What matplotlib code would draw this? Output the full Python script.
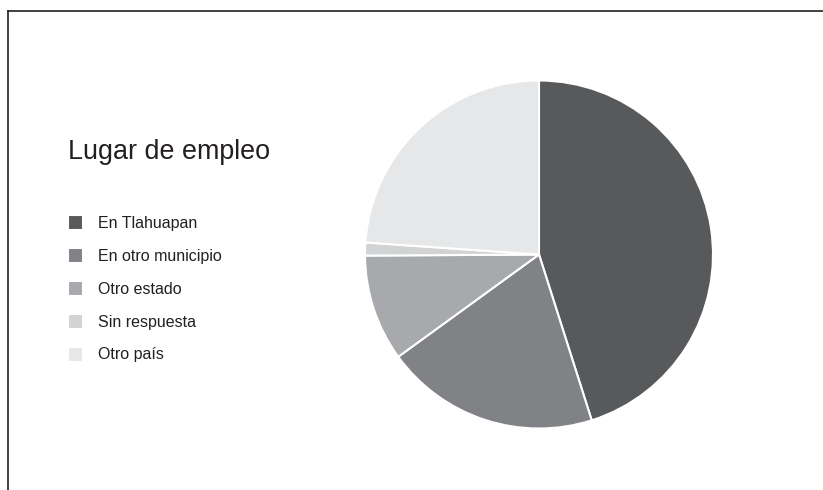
import matplotlib.pyplot as plt
from matplotlib.lines import Line2D

plt.rcParams['font.family'] = ['Liberation Sans', 'DejaVu Sans']

# datos (porcentajes aproximados)
lugares = ['En Tlahuapan', 'En otro municipio', 'Otro estado', 'Sin respuesta', 'Otro país']
valores = [45.1, 19.9, 9.9, 1.2, 23.9]
colores = ['#58595b', '#808285', '#a7a9ac', '#d1d3d4', '#e6e7e8']
titulo = 'Lugar de empleo'

W, H = 823, 490
fig = plt.figure(figsize=(W / 100, H / 100), dpi=100)

# marco: linea superior y linea izquierda
fig.add_artist(Line2D([8 / W, 8 / W], [0, 1 - 11 / H], color='#231f20', lw=1.2))
fig.add_artist(Line2D([8 / W, 1], [1 - 11 / H, 1 - 11 / H], color='#231f20', lw=1.2))

# pastel
cx, cy, r = 539, 254.5, 174
ax = fig.add_axes([(cx - r) / W, 1 - (cy + r) / H, 2 * r / W, 2 * r / H])
wedges, _ = ax.pie(valores, colors=colores, startangle=90, counterclock=False,
                   radius=1, wedgeprops=dict(edgecolor='white', linewidth=1.5))
ax.set_xlim(-1, 1)
ax.set_ylim(-1, 1)
ax.set_aspect('equal')
ax.axis('off')

fig.text(68.5 / W, 1 - 159.3 / H, titulo, fontsize=19.4, color='#231f20', va='baseline')

fig.legend(wedges, lugares, loc='upper left', bbox_to_anchor=(68 / W, 1 - 215 / H),
           frameon=False, fontsize=11.5, borderpad=0, borderaxespad=0,
           handlelength=0.94, handleheight=1.07, handletextpad=0.92,
           labelspacing=1.06, labelcolor='#231f20')

fig.savefig('out.png', dpi=100)
